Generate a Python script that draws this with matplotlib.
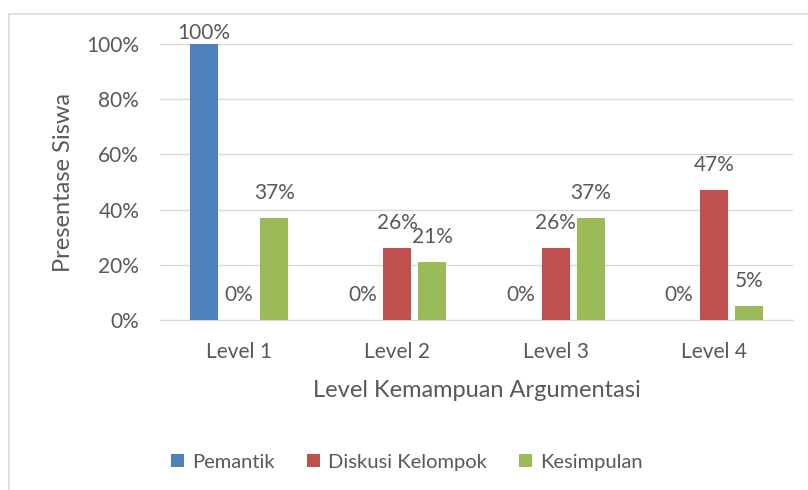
import numpy as np
import matplotlib.pyplot as plt
from matplotlib.patches import Rectangle
from matplotlib.ticker import PercentFormatter

levels = ["Level 1", "Level 2", "Level 3", "Level 4"]
pemantik = [100, 0, 0, 0]
diskusi = [0, 26, 26, 47]
kesimpulan = [37, 21, 37, 5]

names = ["Pemantik", "Diskusi Kelompok", "Kesimpulan"]
colors = ["#4F81BD", "#C0504D", "#9BBB59"]
txt = "#595959"

plt.rcParams['font.family'] = ['Lato', 'DejaVu Sans']

fig = plt.figure(figsize=(8.08, 4.90), dpi=100)
ax = fig.add_axes([160/808, 1-320/490, (793-160)/808, (320-44)/490])

x = np.arange(len(levels))
w = 0.177
step = 0.221
for i, (vals, name, c) in enumerate(zip([pemantik, diskusi, kesimpulan], names, colors)):
    pos = x + (i-1)*step
    ax.bar(pos, vals, w, color=c, label=name, zorder=3)
    for p, v in zip(pos, vals):
        # labels sit above the bar, the 100% one is pushed down to the plot top
        ax.text(p, min(v + 5.5, 100.3), "{}%".format(v), ha="center", va="bottom",
                fontsize=15, color=txt, zorder=4, clip_on=False)

ax.set_xlim(-0.5, 3.5)
ax.set_ylim(0, 100)
ax.set_yticks(range(0, 101, 20))
ax.yaxis.set_major_formatter(PercentFormatter(decimals=0))
ax.set_xticks(x)
ax.set_xticklabels(levels)
ax.tick_params(length=0, labelsize=15, labelcolor=txt)
ax.tick_params(axis='x', pad=16)
ax.tick_params(axis='y', pad=15)
ax.grid(axis='y', color="#D9D9D9", lw=1, zorder=0)
for s in ["top", "right", "left"]:
    ax.spines[s].set_visible(False)
ax.spines["bottom"].set_color("#D9D9D9")

ax.set_ylabel("Presentase Siswa", fontsize=17, color=txt, labelpad=9)
ax.set_xlabel("Level Kemampuan Argumentasi", fontsize=17, color=txt, labelpad=13)

h, l = ax.get_legend_handles_labels()
fig.legend(h, l, loc="center", bbox_to_anchor=(407/808, 1-462/490), ncol=3,
           frameon=False, fontsize=14.5, labelcolor=txt, handlelength=0.65,
           handleheight=0.65, handletextpad=0.4, columnspacing=1.6)

# outer chart border
fig.add_artist(Rectangle((9/808, -0.01), 1.0, 1-14/490 + 0.01, transform=fig.transFigure,
                         fill=False, edgecolor="#D9D9D9", lw=1.2))

fig.savefig("out.png", dpi=100)
